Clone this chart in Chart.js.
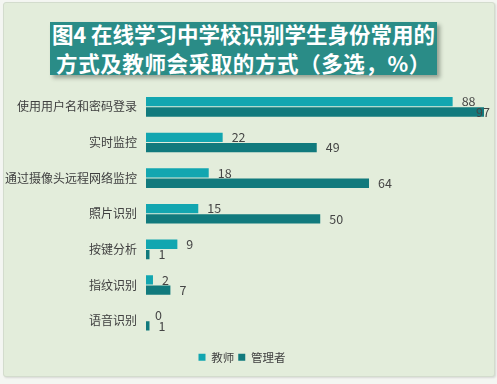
<!DOCTYPE html>
<html><head><meta charset="utf-8">
<script src="https://cdn.jsdelivr.net/npm/chart.js@4/dist/chart.umd.min.js"></script>
<style>
html,body{margin:0;padding:0;background:#f4f6f2;}
#wrap{position:relative;width:497px;height:384px;overflow:hidden;}
#panel{position:absolute;left:3px;top:2px;width:490px;height:373px;background:#e3eddb;border:1px solid #d3dccd;border-radius:3px;box-shadow:1px 1px 2px rgba(0,0,0,0.12);}
#title{position:absolute;left:50px;top:22px;width:387px;height:53px;background:#2a8c87;box-shadow:3px 3px 4px rgba(60,70,60,0.45);color:#fff;font-family:"Noto Sans CJK SC",sans-serif;font-weight:bold;font-size:21.5px;line-height:29px;text-align:center;box-sizing:border-box;}
#title .l1{white-space:nowrap;margin-top:-3px;}
#title .l2{white-space:nowrap;letter-spacing:0.6px;}
canvas{position:absolute;left:0;top:0;}
</style></head>
<body>
<div id="wrap">
<div id="panel"></div>
<div id="title"><div class="l1">图4 在线学习中学校识别学生身份常用的</div><div class="l2">方式及教师会采取的方式（多选，%）</div></div>
<canvas id="c" width="497" height="384"></canvas>
</div>
<script>
const categories = ["使用用户名和密码登录","实时监控","通过摄像头远程网络监控","照片识别","按键分析","指纹识别","语音识别"];
const seriesNames = ["教师","管理者"];
const teacherValues = [88,22,18,15,9,2,0];
const adminValues = [97,49,64,50,1,7,1];

const FONT = '"Noto Sans CJK SC", sans-serif';
const valueLabels = {
  id:'valueLabels',
  afterDatasetsDraw(chart){
    const ctx = chart.ctx;
    ctx.save();
    ctx.font = '12.5px ' + FONT;
    ctx.fillStyle = '#454545';
    ctx.textBaseline = 'middle';
    ctx.textAlign = 'left';
    chart.data.datasets.forEach((ds,di)=>{
      const meta = chart.getDatasetMeta(di);
      meta.data.forEach((bar,i)=>{
        const t = String(ds.data[i]);
        const w = ctx.measureText(t).width;
        let x = bar.x + 9;
        if (x + w > 490) x = 490 - w;
        ctx.fillText(t, x, bar.y);
      });
    });
    ctx.restore();
  }
};

new Chart(document.getElementById('c'), {
  type:'bar',
  data:{
    labels: categories,
    datasets:[
      {label:seriesNames[0], data:teacherValues, backgroundColor:'#12a6b0', borderWidth:0},
      {label:seriesNames[1], data:adminValues, backgroundColor:'#117a7d', borderWidth:0}
    ]
  },
  options:{
    indexAxis:'y',
    responsive:false,
    animation:false,
    layout:{padding:{left:0,right:13,top:89,bottom:11}},
    categoryPercentage:0.58,
    barPercentage:0.9,
    scales:{
      x:{display:true,min:0,max:97,grid:{display:false,drawTicks:false},border:{display:false},ticks:{display:false},
         afterFit(s){ s.height = 9; }},
      y:{
        grid:{display:false,drawTicks:false},
        border:{display:false},
        ticks:{padding:9,color:'#404040',font:{family:FONT,size:12}},
        afterFit(s){ s.width = 146; }
      }
    },
    plugins:{
      legend:{position:'bottom',labels:{boxWidth:7,boxHeight:7,padding:4,color:'#404040',font:{family:FONT,size:11.5}}},
      tooltip:{enabled:false}
    }
  },
  plugins:[valueLabels]
});
</script>
</body></html>
